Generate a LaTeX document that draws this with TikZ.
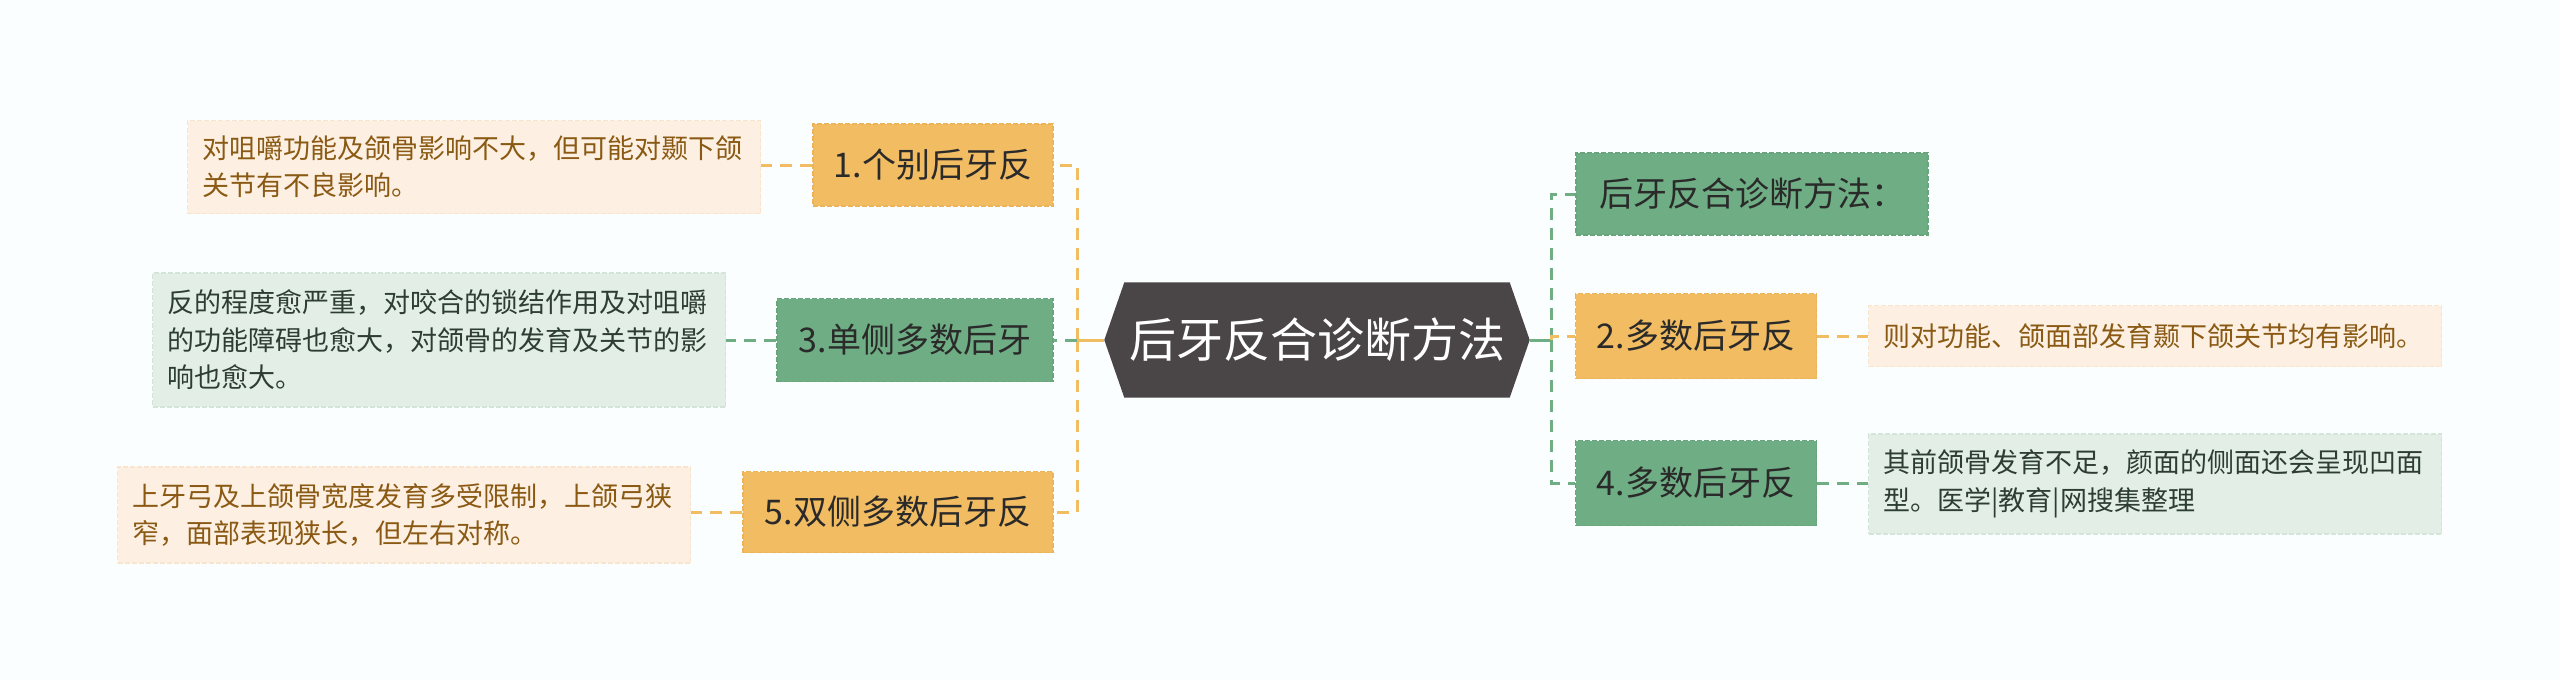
\documentclass[tikz,border=0pt]{standalone}
\usepackage{fontspec}
\setmainfont{Noto Sans CJK SC}
\usetikzlibrary{backgrounds}
\definecolor{bg}{HTML}{FBFEFE}
\definecolor{ofill}{HTML}{F2BC63}
\definecolor{oline}{HTML}{E2A850}
\definecolor{gfill}{HTML}{6FAE84}
\definecolor{gline}{HTML}{5F9A74}
\definecolor{lofill}{HTML}{FDF0E2}
\definecolor{lgfill}{HTML}{E3EFE6}
\definecolor{lotext}{HTML}{8A5A14}
\definecolor{lgtext}{HTML}{2E3D33}
\definecolor{cfill}{HTML}{4A4546}
\definecolor{ntext}{HTML}{2A2A2A}
\tikzset{
 mainbox/.style={rectangle, inner sep=0pt, font=\fontsize{34}{40}\selectfont, text=ntext, line width=1.5pt, dash pattern=on 5pt off 2pt},
 obox/.style={mainbox, fill=ofill, draw=ofill!55!oline},
 gbox/.style={mainbox, fill=gfill, draw=gfill!55!gline},
 leaf/.style={rectangle, inner xsep=15pt, inner ysep=0pt, align=left, text width=543pt, font=\fontsize{27}{37.5}\selectfont, line width=1.5pt, dash pattern=on 5pt off 2pt},
 oleaf/.style={leaf, fill=lofill, draw=lofill!85!oline, text=lotext},
 gleaf/.style={leaf, fill=lgfill, draw=lgfill!88!gline, text=lgtext},
 olink/.style={draw=ofill, line width=3pt, dash pattern=on 12pt off 8pt},
 glink/.style={draw=gfill, line width=3pt, dash pattern=on 12pt off 8pt},
 otrunk/.style={draw=ofill, line width=3pt},
 gtrunk/.style={draw=gfill, line width=3pt},
}
\begin{document}
\begin{tikzpicture}[x=1pt,y=-1pt]
\useasboundingbox (0,0) rectangle (2560,680);
\begin{scope}[on background layer]
\fill[bg] (0,0) rectangle (2560,680);
\end{scope}

% centre
\node[font=\fontsize{47}{50}\selectfont, text=white, minimum width=425pt, minimum height=115pt, inner sep=0pt] (c) at (1317,340) {后牙反合诊断方法};
\begin{scope}[on background layer]
\fill[cfill] ([xshift=20pt]c.north west) -- ([xshift=-20pt]c.north east) -- (c.east) -- ([xshift=-20pt]c.south east) -- ([xshift=20pt]c.south west) -- (c.west) -- cycle;
\end{scope}

% left main nodes
\node[obox, minimum width=240pt, minimum height=82pt] (n1) at (933,165) {1.个别后牙反};
\node[gbox, minimum width=276pt, minimum height=83pt] (n3) at (915,340) {3.单侧多数后牙};
\node[obox, minimum width=310pt, minimum height=81pt] (n5) at (898,512) {5.双侧多数后牙反};

% left leaves
\node[oleaf, minimum height=93pt] (l1) at (474,167) {对咀嚼功能及颌骨影响不大，但可能对颞下颌\\关节有不良影响。};
\node[gleaf, minimum height=134pt] (l3) at (439,340) {反的程度愈严重，对咬合的锁结作用及对咀嚼\\的功能障碍也愈大，对颌骨的发育及关节的影\\响也愈大。};
\node[oleaf, minimum height=96pt] (l5) at (404,515) {上牙弓及上颌骨宽度发育多受限制，上颌弓狭\\窄，面部表现狭长，但左右对称。};

% right main nodes
\node[gbox, minimum width=352pt, minimum height=82pt] (r0) at (1752,194) {后牙反合诊断方法：};
\node[obox, minimum width=241pt, minimum height=85pt] (n2) at (1696,336) {2.多数后牙反};
\node[gbox, minimum width=241pt, minimum height=85pt] (n4) at (1696,483) {4.多数后牙反};

% right leaves
\node[oleaf, minimum height=61pt] (l2) at (2155,336) {则对功能、颌面部发育颞下颌关节均有影响。};
\node[gleaf, minimum height=100pt] (l4) at (2155,484) {其前颌骨发育不足，颜面的侧面还会呈现凹面\\型。医学|教育|网搜集整理};

% buses
\coordinate (busL) at (1077,340);
\coordinate (busR) at (1551,340);
\draw[otrunk] (c.west) -- (busL);
\draw[gtrunk] (c.east) -- (busR);
\draw[olink] (busL) |- (n1.east);
\draw[olink] (busL) |- (n5.east);
\draw[glink] (busL) -- (n3.east);
\draw[glink] (busR) |- (r0.west);
\draw[glink] (busR) |- (n4.west);
\draw[olink] (busR) |- (n2.west);

% leaf links
\draw[olink] (n1.west) -- (n1.west -| l1.east);
\draw[glink] (n3.west) -- (n3.west -| l3.east);
\draw[olink] (n5.west) -- (n5.west -| l5.east);
\draw[olink] (n2.east) -- (n2.east -| l2.west);
\draw[glink] (n4.east) -- (n4.east -| l4.west);
\end{tikzpicture}
\end{document}
